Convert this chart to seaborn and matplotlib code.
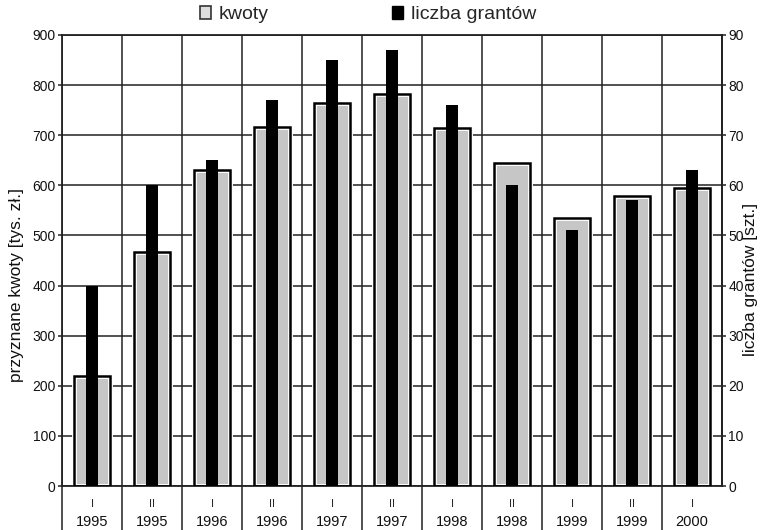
import matplotlib
matplotlib.use("Agg")
import matplotlib.pyplot as plt
from matplotlib.patches import Patch
from matplotlib.ticker import FixedLocator, MultipleLocator
import seaborn as sns
import pandas as pd

# Half-year periods of grant awards
halves = ["I", "II", "I", "II", "I", "II", "I", "II", "I", "II", "I"]
years = ["1995", "1995", "1996", "1996", "1997", "1997", "1998", "1998", "1999", "1999", "2000"]
# Awarded amounts [thousand PLN] and number of grants
kwoty = [220, 466, 630, 717, 765, 782, 715, 645, 535, 578, 595]
granty = [40, 60, 65, 77, 85, 87, 76, 60, 51, 57, 63]

okres = [f"{h} {y}" for h, y in zip(halves, years)]
df = pd.DataFrame({"okres": okres, "kwoty": kwoty, "granty": granty})

sns.set_theme(style="white")
plt.rcParams["font.family"] = ["Liberation Sans", "DejaVu Sans"]

fig = plt.figure(figsize=(7.73, 5.30), dpi=100)
ax = fig.add_axes([0.0802, 0.083, 0.854, 0.851])

# amounts: grey fill with a white inner rim and a black outline
sns.barplot(data=df, x="okres", y="kwoty", order=okres, width=0.6, color="#c6c6c6",
            saturation=1, edgecolor="white", linewidth=3.5, errorbar=None, ax=ax, zorder=2)
sns.barplot(data=df, x="okres", y="kwoty", order=okres, width=0.6, fill=False,
            edgecolor="black", linewidth=1.8, errorbar=None, ax=ax, zorder=3)

ax.set_xlim(-0.5, len(okres) - 0.5)
ax.set_ylim(0, 900)
ax.yaxis.set_major_locator(MultipleLocator(100))
ax.set_axisbelow(True)

# category separators (extend below the axis as long minor ticks)
ax.xaxis.set_minor_locator(FixedLocator([i - 0.5 for i in range(len(okres) + 1)]))
ax.grid(which="minor", axis="x", color="#222222", linewidth=1.1)
ax.grid(which="major", axis="y", color="#222222", linewidth=1.1)
ax.grid(which="major", axis="x", visible=False)

ax.set_xticks(range(len(okres)))
ax.set_xticklabels(halves, fontsize=8)
ax.tick_params(axis="x", which="major", length=0, pad=9)
ax.tick_params(axis="x", which="minor", bottom=True, length=33, width=1.1,
               color="#222222", direction="out")
ax.xaxis.get_minor_ticks()[-1].tick1line.set_visible(False)
ax.tick_params(axis="y", left=True, length=3, width=1.1, color="#222222",
               labelsize=10, pad=1.5, labelcolor="#111111")

# years on a second row of labels
sec = ax.secondary_xaxis("bottom")
sec.set_xticks(range(len(okres)))
sec.set_xticklabels(years, fontsize=10.5, color="#111111")
sec.tick_params(length=0, pad=21)
sec.spines["bottom"].set_visible(False)

for side in ["left", "top", "bottom", "right"]:
    ax.spines[side].set_color("#222222")
    ax.spines[side].set_linewidth(1.3)
ax.set_xlabel("")
ax.set_ylabel("przyznane kwoty [tys. zł.]", fontsize=12.5, color="#111111")
ax.yaxis.set_label_coords(-0.058, 0.446)

# number of grants on the right axis
ax2 = ax.twinx()
sns.barplot(data=df, x="okres", y="granty", order=okres, width=0.19, color="black",
            saturation=1, linewidth=0, errorbar=None, ax=ax2)
ax2.set_ylim(0, 90)
ax2.yaxis.set_major_locator(MultipleLocator(10))
ax2.grid(False)
ax2.tick_params(axis="y", right=True, length=3, width=1.1, color="#222222",
                labelsize=10, pad=1.5, labelcolor="#111111")
ax2.set_ylabel("liczba grantów [szt.]", fontsize=12.5, color="#111111")
ax2.yaxis.set_label_coords(1.032, 0.457)
for side in ["left", "top", "bottom", "right"]:
    ax2.spines[side].set_visible(side == "right")
ax2.spines["right"].set_color("#222222")
ax2.spines["right"].set_linewidth(1.3)
ax2.set_xlim(-0.5, len(okres) - 0.5)

handles = [Patch(facecolor="#dddddd", edgecolor="#333333", linewidth=1.2, label="kwoty"),
           Patch(facecolor="black", edgecolor="black", label="liczba grantów")]
fig.legend(handles=handles, loc="center", bbox_to_anchor=(0.476, 0.972), ncol=2,
           frameon=False, fontsize=14, handlelength=0.6, handleheight=0.6,
           handletextpad=0.4, columnspacing=6.3)

fig.savefig("out.png", dpi=100)
